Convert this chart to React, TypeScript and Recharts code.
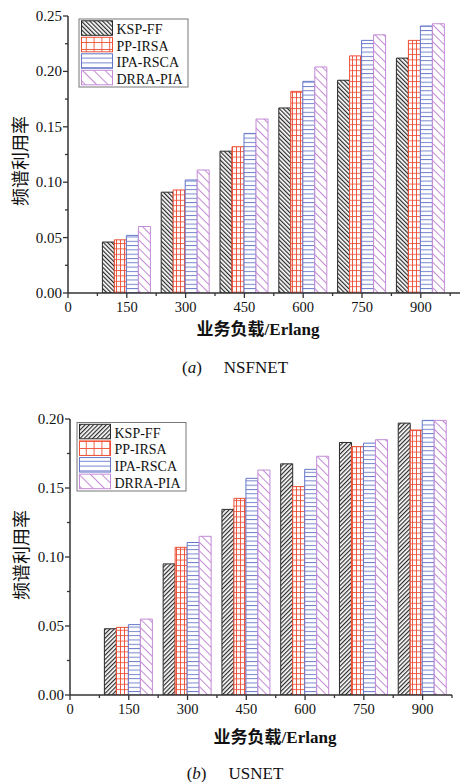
import React from 'react';
import { BarChart, Bar, XAxis, YAxis } from 'recharts';

// ---- data ----
const loads = [150, 300, 450, 600, 750, 900];
const seriesNames = ['KSP-FF', 'PP-IRSA', 'IPA-RSCA', 'DRRA-PIA'];

// (a) NSFNET
const nsfKspFF = [0.046, 0.091, 0.128, 0.167, 0.192, 0.212];
const nsfPpIRSA = [0.048, 0.093, 0.132, 0.182, 0.214, 0.228];
const nsfIpaRSCA = [0.052, 0.102, 0.144, 0.191, 0.228, 0.241];
const nsfDrraPIA = [0.06, 0.111, 0.157, 0.204, 0.233, 0.243];

// (b) USNET
const usKspFF = [0.048, 0.095, 0.1345, 0.1675, 0.183, 0.197];
const usPpIRSA = [0.049, 0.107, 0.1425, 0.151, 0.18, 0.192];
const usIpaRSCA = [0.051, 0.1105, 0.157, 0.1635, 0.1825, 0.199];
const usDrraPIA = [0.055, 0.115, 0.163, 0.173, 0.185, 0.199];

const xTicksA = [0, 75, 150, 225, 300, 375, 450, 525, 600, 675, 750, 825, 900, 975];
const xTicksB = [0, 75, 150, 225, 300, 375, 450, 525, 600, 675, 750, 825, 900, 975];
const yTicksA = [0, 0.025, 0.05, 0.075, 0.1, 0.125, 0.15, 0.175, 0.2, 0.225, 0.25];
const yTicksB = [0, 0.025, 0.05, 0.075, 0.1, 0.125, 0.15, 0.175, 0.2];

const xTitle = '业务负载/Erlang';
const yTitle = '频谱利用率';

function buildRows(a: number[], b: number[], c: number[], d: number[]) {
  return loads.map((load, i) => ({ load, kspFF: a[i], ppIRSA: b[i], ipaRSCA: c[i], drraPIA: d[i] }));
}
const dataA = buildRows(nsfKspFF, nsfPpIRSA, nsfIpaRSCA, nsfDrraPIA);
const dataB = buildRows(usKspFF, usPpIRSA, usIpaRSCA, usDrraPIA);

// ---- styles ----
const SERIF = '"Liberation Serif", "Times New Roman", serif';
const CJK = '"Liberation Serif", "Noto Sans CJK SC", sans-serif';
const AXIS = '#333';
const C_KSP = '#2a2a2a';
const C_PP = '#ee5036';
const C_IPA = '#6577c9';
const C_DRRA = '#c48ad6';

const XTick = (props: any) => {
  const { x, y, payload } = props;
  const v = payload.value;
  const major = v % 150 === 0;
  return (
    <g>
      <line x1={x} x2={x} y1={y} y2={y + (major ? 5 : 3)} stroke={AXIS} strokeWidth={1.3} />
      {major && (
        <text x={x} y={y + 19} textAnchor="middle" fontSize={14.5} fill="#111" fontFamily={SERIF}>
          {v}
        </text>
      )}
    </g>
  );
};

const YTick = (props: any) => {
  const { x, y, payload } = props;
  const v = payload.value;
  const major = Math.abs(v * 20 - Math.round(v * 20)) < 1e-6;
  return (
    <g>
      <line x1={x} x2={x - (major ? 5 : 3)} y1={y} y2={y} stroke={AXIS} strokeWidth={1.3} />
      {major && (
        <text x={x - 6} y={y + 5} textAnchor="end" fontSize={15} fill="#111" fontFamily={SERIF}>
          {v.toFixed(2)}
        </text>
      )}
    </g>
  );
};

function Panel(p: {
  data: any[];
  xDomain: number[];
  xTicks: number[];
  yDomain: number[];
  yTicks: number[];
  yAxisWidth: number;
  marginRight: number;
  height: number;
  kspPattern: string;
}) {
  return (
    <BarChart
      width={460}
      height={p.height}
      data={p.data}
      margin={{ top: 16, right: p.marginRight, bottom: 57, left: 0 }}
      barGap={0}
    >
      <XAxis
        type="number"
        dataKey="load"
        domain={p.xDomain}
        ticks={p.xTicks}
        interval={0}
        allowDataOverflow
        tickLine={false}
        tickSize={0}
        tickMargin={0}
        tick={<XTick />}
        axisLine={{ stroke: AXIS, strokeWidth: 1.5 }}
        height={30}
      />
      <YAxis
        type="number"
        domain={p.yDomain}
        ticks={p.yTicks}
        interval={0}
        allowDataOverflow
        tickLine={false}
        tickSize={0}
        tickMargin={0}
        tick={<YTick />}
        axisLine={{ stroke: AXIS, strokeWidth: 1.5 }}
        width={p.yAxisWidth}
      />
      <Bar dataKey="kspFF" name={seriesNames[0]} barSize={12} fill={`url(#${p.kspPattern})`} stroke={C_KSP} strokeWidth={1} isAnimationActive={false} />
      <Bar dataKey="ppIRSA" name={seriesNames[1]} barSize={12} fill="url(#patPP)" stroke={C_PP} strokeWidth={1} isAnimationActive={false} />
      <Bar dataKey="ipaRSCA" name={seriesNames[2]} barSize={12} fill="url(#patIPA)" stroke={C_IPA} strokeWidth={1} isAnimationActive={false} />
      <Bar dataKey="drraPIA" name={seriesNames[3]} barSize={12} fill="url(#patDRRA)" stroke={C_DRRA} strokeWidth={1} isAnimationActive={false} />
    </BarChart>
  );
}

const Patterns = () => (
  <svg width={0} height={0} style={{ position: 'absolute' }}>
    <defs>
      <pattern id="patKspA" width={3} height={10} patternUnits="userSpaceOnUse" patternTransform="rotate(-45)">
        <rect width={3} height={10} fill="#fff" />
        <line x1={0.6} y1={0} x2={0.6} y2={10} stroke={C_KSP} strokeWidth={1.2} />
      </pattern>
      <pattern id="patKspB" width={3} height={10} patternUnits="userSpaceOnUse" patternTransform="rotate(45)">
        <rect width={3} height={10} fill="#fff" />
        <line x1={0.6} y1={0} x2={0.6} y2={10} stroke={C_KSP} strokeWidth={1.2} />
      </pattern>
      <pattern id="patPP" width={4} height={5.4} patternUnits="userSpaceOnUse">
        <rect width={4} height={5.4} fill="#fff" />
        <path d="M0 0.5 H4 M0.5 0 V5.4" stroke={C_PP} strokeWidth={0.9} fill="none" />
      </pattern>
      <pattern id="patIPA" width={10} height={4.3} patternUnits="userSpaceOnUse">
        <rect width={10} height={4.3} fill="#fff" />
        <line x1={0} y1={0.5} x2={10} y2={0.5} stroke={C_IPA} strokeWidth={0.9} />
      </pattern>
      <pattern id="patDRRA" width={6} height={10} patternUnits="userSpaceOnUse" patternTransform="rotate(-45)">
        <rect width={6} height={10} fill="#fff" />
        <line x1={0.5} y1={0} x2={0.5} y2={10} stroke={C_DRRA} strokeWidth={1} />
      </pattern>
      <pattern id="legPP" width={7.8} height={7} patternUnits="userSpaceOnUse">
        <rect width={7.8} height={7} fill="#fff" />
        <path d="M0 0.5 H7.8 M0.5 0 V7" stroke={C_PP} strokeWidth={0.9} fill="none" />
      </pattern>
      <pattern id="legIPA" width={10} height={4.8} patternUnits="userSpaceOnUse">
        <rect width={10} height={4.8} fill="#fff" />
        <line x1={0} y1={0.5} x2={10} y2={0.5} stroke={C_IPA} strokeWidth={0.9} />
      </pattern>
      <pattern id="legDRRA" width={8} height={10} patternUnits="userSpaceOnUse" patternTransform="rotate(-45)">
        <rect width={8} height={10} fill="#fff" />
        <line x1={0.5} y1={0} x2={0.5} y2={10} stroke={C_DRRA} strokeWidth={1} />
      </pattern>
    </defs>
  </svg>
);

function LegendBox(p: { x: number; y: number; w: number; h: number; kspPattern: string }) {
  const fills = [`url(#${p.kspPattern})`, 'url(#legPP)', 'url(#legIPA)', 'url(#legDRRA)'];
  const strokes = [C_KSP, C_PP, C_IPA, C_DRRA];
  const pitch = (p.h - 2) / 4;
  return (
    <g>
      <rect x={p.x} y={p.y} width={p.w} height={p.h} fill="#fff" stroke="#777" strokeWidth={1} />
      {seriesNames.map((n, i) => (
        <g key={n}>
          <rect x={p.x + 2.5} y={p.y + 1.8 + pitch * i} width={31} height={14.5} fill={fills[i]} stroke={strokes[i]} strokeWidth={1} />
          <text x={p.x + 37.5} y={p.y + 15.3 + pitch * i} fontSize={14} fill="#111" fontFamily={SERIF}>
            {n}
          </text>
        </g>
      ))}
    </g>
  );
}

function Caption(p: { x: number; y: number; letter: string; name: string }) {
  return (
    <text x={p.x} y={p.y} textAnchor="middle" fontSize={17} fill="#111" fontFamily={SERIF}>
      <tspan>(</tspan>
      <tspan fontStyle="italic">{p.letter}</tspan>
      <tspan>)</tspan>
      <tspan dx={22}>{p.name}</tspan>
    </text>
  );
}

export default function App() {
  return (
    <div style={{ position: 'absolute', left: 0, top: 0, width: 460, height: 782, background: '#fff', overflow: 'hidden' }}>
      <Patterns />
      <div style={{ position: 'absolute', left: 0, top: 0 }}>
        <Panel
          data={dataA}
          xDomain={[0, 1000]}
          xTicks={xTicksA}
          yDomain={[0, 0.25]}
          yTicks={yTicksA}
          yAxisWidth={68}
          marginRight={0}
          height={380}
          kspPattern="patKspA"
        />
      </div>
      <div style={{ position: 'absolute', left: 0, top: 403 }}>
        <Panel
          data={dataB}
          xDomain={[0, 975]}
          xTicks={xTicksB}
          yDomain={[0, 0.2]}
          yTicks={yTicksB}
          yAxisWidth={70}
          marginRight={8}
          height={379}
          kspPattern="patKspB"
        />
      </div>
      <svg width={460} height={782} style={{ position: 'absolute', left: 0, top: 0, pointerEvents: 'none' }}>
        <LegendBox x={79} y={19} w={109} h={68} kspPattern="patKspA" />
        <LegendBox x={77} y={422.5} w={109} h={68.5} kspPattern="patKspB" />
        <text transform="translate(21,161) rotate(-90)" textAnchor="middle" dominantBaseline="central" fontSize={18} fill="#111" fontFamily={CJK}>
          {yTitle}
        </text>
        <text transform="translate(22,555) rotate(-90)" textAnchor="middle" dominantBaseline="central" fontSize={18} fill="#111" fontFamily={CJK}>
          {yTitle}
        </text>
        <text x={258} y={329} textAnchor="middle" dominantBaseline="central" fontSize={17} fontWeight="bold" fill="#111" fontFamily={CJK}>
          {xTitle}
        </text>
        <text x={275} y={737} textAnchor="middle" dominantBaseline="central" fontSize={17} fontWeight="bold" fill="#111" fontFamily={CJK}>
          {xTitle}
        </text>
        <Caption x={235} y={373} letter="a" name="NSFNET" />
        <Caption x={235} y={779} letter="b" name="USNET" />
      </svg>
    </div>
  );
}
